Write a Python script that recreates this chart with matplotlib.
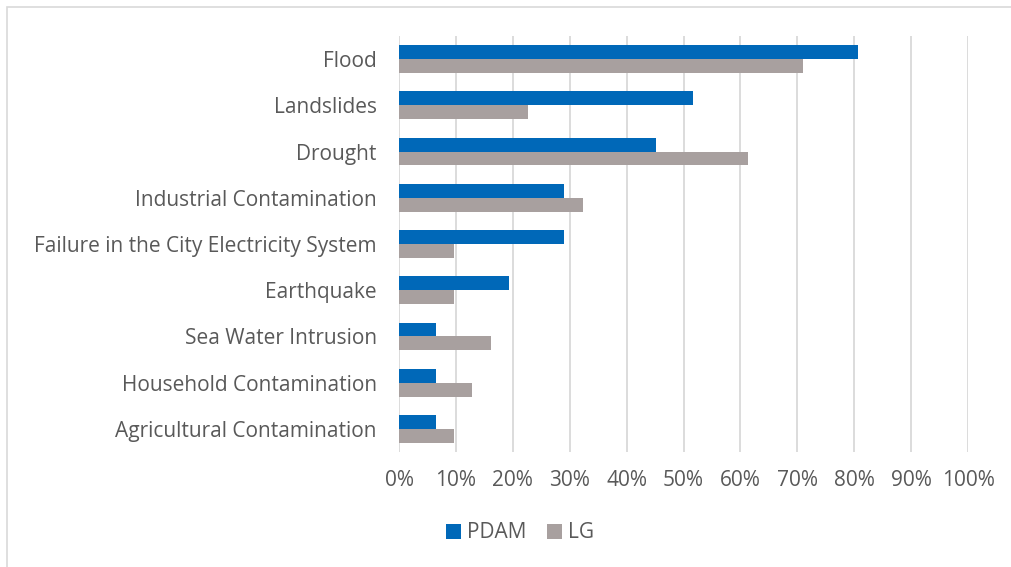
import matplotlib
matplotlib.use("Agg")
import matplotlib.pyplot as plt
import numpy as np
from matplotlib.patches import Rectangle
from matplotlib.ticker import FuncFormatter

categories = ["Flood", "Landslides", "Drought", "Industrial Contamination",
              "Failure in the City Electricity System", "Earthquake",
              "Sea Water Intrusion", "Household Contamination",
              "Agricultural Contamination"]
pdam = [80.6, 51.6, 45.2, 29.0, 29.0, 19.4, 6.5, 6.5, 6.5]
lg = [71.0, 22.6, 61.3, 32.3, 9.7, 9.7, 16.1, 12.9, 9.7]
xticks = [0, 10, 20, 30, 40, 50, 60, 70, 80, 90, 100]

plt.rcParams['font.family'] = ['Open Sans', 'DejaVu Sans']
txt = '#595959'
blue = '#0068B8'
grey = '#A8A09F'

fig = plt.figure(figsize=(10.11, 5.67), dpi=100)
W, H = 1011, 567
ax = fig.add_axes([399 / W, 1 - 452 / H, (968 - 399) / W, (452 - 36) / H])

y = np.arange(len(categories))
h = 0.30
ax.barh(y - h / 2, pdam, height=h, color=blue, label='PDAM', zorder=3)
ax.barh(y + h / 2, lg, height=h, color=grey, label='LG', zorder=3)

ax.set_xlim(0, 100)
ax.set_ylim(len(categories) - 0.5, -0.5)
ax.set_xticks(xticks)
ax.xaxis.set_major_formatter(FuncFormatter(lambda v, p: f"{v:.0f}%"))
ax.set_yticks(y)
ax.set_yticklabels(categories)
ax.grid(axis='x', color='#d9d9d9', linewidth=1.3, zorder=0)
for s in ax.spines.values():
    s.set_visible(False)
ax.tick_params(axis='both', length=0, colors=txt, labelsize=15)
ax.tick_params(axis='x', pad=13)
ax.tick_params(axis='y', pad=16)

leg = fig.legend(loc='center', bbox_to_anchor=(520 / W, 1 - 533 / H), ncol=2,
                 frameon=False, fontsize=15, handlelength=0.7, handleheight=0.7,
                 handletextpad=0.3, columnspacing=1.0)
for t in leg.get_texts():
    t.set_color(txt)

fig.patches.append(Rectangle((7 / W, -0.1), 1.2, 1 - 7 / H + 0.1, transform=fig.transFigure,
                             fill=False, edgecolor='#d9d9d9', linewidth=1.2))

fig.savefig('out.png', dpi=100, facecolor='white')
